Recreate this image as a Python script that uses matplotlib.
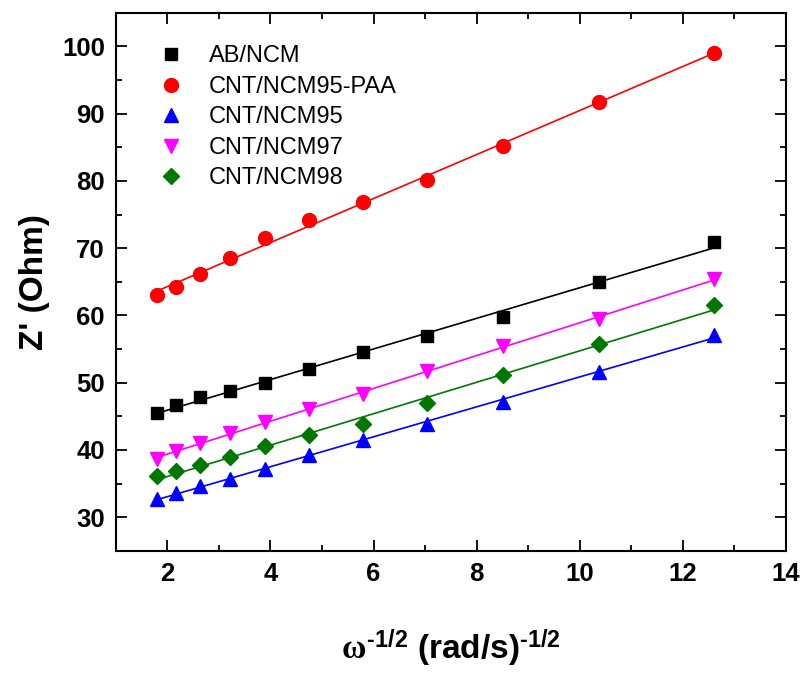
import numpy as np
import matplotlib
matplotlib.use("Agg")
import matplotlib.pyplot as plt
from matplotlib.ticker import MultipleLocator

plt.rcParams['font.family'] = ['Liberation Sans', 'DejaVu Sans']
plt.rcParams['mathtext.fontset'] = 'custom'
plt.rcParams['mathtext.rm'] = 'Liberation Sans:bold'
plt.rcParams['mathtext.bf'] = 'Liberation Sans:bold'
plt.rcParams['mathtext.it'] = 'Liberation Serif:bold'

# omega^-1/2 (rad/s)^-1/2
x = [1.79, 2.17, 2.64, 3.22, 3.90, 4.74, 5.79, 7.03, 8.52, 10.37, 12.60]

names = ["AB/NCM", "CNT/NCM95-PAA", "CNT/NCM95", "CNT/NCM97", "CNT/NCM98"]
ab_ncm = [45.5, 46.7, 47.8, 48.7, 50.0, 52.1, 54.5, 56.9, 59.8, 64.9, 70.9]
cnt95_paa = [63.1, 64.3, 66.1, 68.5, 71.5, 74.2, 76.8, 80.2, 85.2, 91.7, 99.0]
cnt95 = [32.7, 33.6, 34.6, 35.7, 37.2, 39.3, 41.5, 43.8, 47.2, 51.6, 57.1]
cnt97 = [38.7, 39.8, 41.0, 42.5, 44.2, 46.1, 48.3, 51.8, 55.4, 59.5, 65.4]
cnt98 = [36.1, 36.8, 37.7, 39.0, 40.6, 42.2, 43.9, 47.0, 51.1, 55.8, 61.5]

serije = [ab_ncm, cnt95_paa, cnt95, cnt97, cnt98]
barve = ["black", "#ff0000", "#0000ff", "#ff00ff", "#007700"]
markerji = ["s", "o", "^", "v", "D"]
velikosti = [9, 10, 10, 10, 8.5]

fig = plt.figure(figsize=(8.05, 6.75), dpi=100)
ax = fig.add_axes([0.144, 0.184, 0.832, 0.797])

xs = np.array(x)
for ime, y, c, m, ms in zip(names, serije, barve, markerji, velikosti):
    # linearni fit
    k, n = np.polyfit(xs, y, 1)
    ax.plot([xs.min(), xs.max()], [k * xs.min() + n, k * xs.max() + n], color=c, lw=1.2)
    ax.plot(xs, y, linestyle="none", marker=m, color=c, markersize=ms, label=ime)

ax.set_xlim(1, 14)
ax.set_ylim(25, 105)
ax.xaxis.set_major_locator(MultipleLocator(2))
ax.xaxis.set_minor_locator(MultipleLocator(1))
ax.yaxis.set_major_locator(MultipleLocator(10))
ax.yaxis.set_minor_locator(MultipleLocator(5))
ax.tick_params(which="both", direction="in", top=True, right=True, width=1.3)
ax.tick_params(which="major", length=8, labelsize=18.5, pad=8)
ax.tick_params(which="minor", length=4)
for lab in ax.get_xticklabels() + ax.get_yticklabels():
    lab.set_fontweight("bold")
for s in ax.spines.values():
    s.set_linewidth(1.5)

ax.set_ylabel("Z' (Ohm)", fontsize=24, fontweight="bold")
ax.yaxis.set_label_coords(-0.122, 0.5)
ax.yaxis.label.set_va("center")
ax.set_xlabel(r"$\omega^{\text{-}1/2}$ (rad/s)$^{\text{-}1/2}$", fontsize=24, fontweight="bold")
ax.xaxis.set_label_coords(0.5, -0.182)
ax.xaxis.label.set_va("center")

ax.legend(loc="upper left", bbox_to_anchor=(0.047, 0.957), frameon=False,
          fontsize=17, handlelength=1.2, handletextpad=1.0, labelspacing=0.36,
          borderaxespad=0)

plt.savefig("out.png", dpi=100)
